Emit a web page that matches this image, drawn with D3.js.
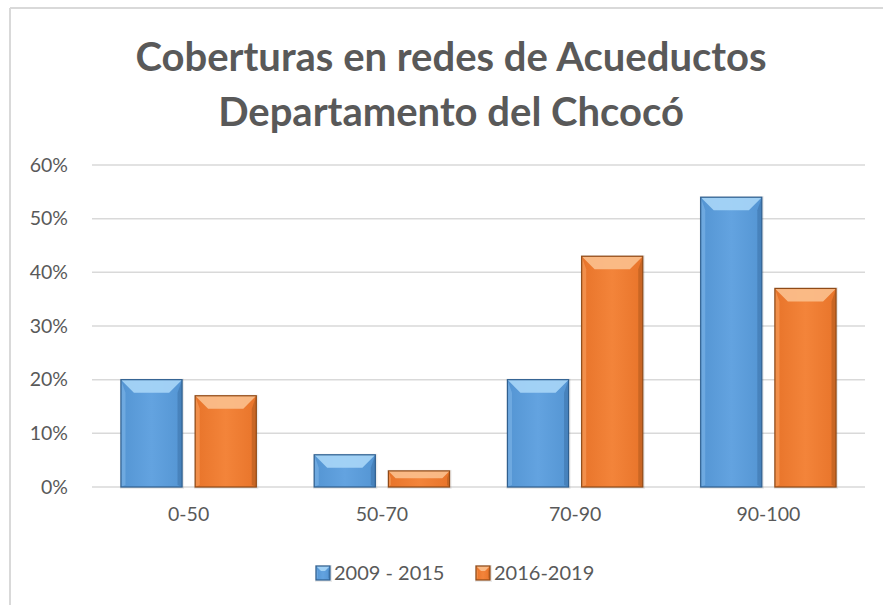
<!DOCTYPE html>
<html>
<head>
<meta charset="utf-8">
<script src="https://cdn.jsdelivr.net/npm/d3@7"></script>
<style>
  body { margin: 0; background: #fff; }
  svg { display: block; }
  text { font-family: Lato, "Open Sans", sans-serif; }
</style>
</head>
<body>
<div id="chart"></div>
<script>
// data
const categories = ['0-50', '50-70', '70-90', '90-100'];
const seriesNames = ['2009 - 2015', '2016-2019'];
const values2009 = [0.20, 0.06, 0.20, 0.54];
const values2016 = [0.17, 0.03, 0.43, 0.37];
const yTicks = [0, 0.1, 0.2, 0.3, 0.4, 0.5, 0.6];
const titleLines = ['Coberturas en redes de Acueductos', 'Departamento del Chcocó'];

const width = 883, height = 605;
const margin = { top: 165, right: 18, bottom: 118, left: 92 };

const svg = d3.select('#chart').append('svg')
  .attr('width', width)
  .attr('height', height);

// gradients for the bevelled bars
const defs = svg.append('defs');
const palettes = [
  { id: 'blue', top: '#7fb5e8', mid: '#63a3e0', bot: '#5495d3', hi: '#a9d6f7', edge: '#2f5f8f' },
  { id: 'orange', top: '#f7a060', mid: '#f3843a', bot: '#e8742a', hi: '#fbc08e', edge: '#8f4a17' }
];
palettes.forEach(p => {
  const g = defs.append('linearGradient').attr('id', 'grad-' + p.id)
    .attr('x1', 0).attr('y1', 0).attr('x2', 1).attr('y2', 0);
  g.append('stop').attr('offset', '0%').attr('stop-color', p.bot);
  g.append('stop').attr('offset', '50%').attr('stop-color', p.mid);
  g.append('stop').attr('offset', '100%').attr('stop-color', p.bot);
});

// chart border (only top and left show in the reference)
svg.append('line').attr('x1', 10).attr('x2', width).attr('y1', 8).attr('y2', 8)
  .attr('stroke', '#d9d9d9').attr('stroke-width', 2);
svg.append('line').attr('x1', 10).attr('x2', 10).attr('y1', 8).attr('y2', height)
  .attr('stroke', '#d9d9d9').attr('stroke-width', 2);

// title
svg.append('text')
  .attr('x', 451).attr('y', 71)
  .attr('text-anchor', 'middle')
  .attr('font-size', 40).attr('font-weight', 'bold').attr('fill', '#595959')
  .selectAll('tspan').data(titleLines).enter().append('tspan')
  .attr('x', 451).attr('dy', (d, i) => i === 0 ? 0 : 55)
  .text(d => d);

const x = d3.scaleBand()
  .domain(categories)
  .range([margin.left, width - margin.right]);

const x1 = d3.scaleBand()
  .domain(seriesNames)
  .range([0, x.bandwidth()])
  .paddingInner(0.176)
  .paddingOuter(0.39);

const y = d3.scaleLinear()
  .domain([0, 0.6])
  .range([height - margin.bottom, margin.top]);

// gridlines
svg.append('g').selectAll('line').data(yTicks).enter().append('line')
  .attr('x1', margin.left).attr('x2', width - margin.right)
  .attr('y1', d => y(d)).attr('y2', d => y(d))
  .attr('stroke', '#d9d9d9').attr('stroke-width', 1.5);

// y axis labels
const yAxis = d3.axisLeft(y).tickValues(yTicks).tickFormat(d3.format('.0%')).tickSize(0).tickPadding(24);
svg.append('g').attr('transform', `translate(${margin.left},0)`).call(yAxis)
  .call(g => g.select('.domain').remove())
  .call(g => g.selectAll('text').attr('font-size', 19.5).attr('fill', '#595959')
    .attr('font-family', 'Lato, "Open Sans", sans-serif'));

// x axis labels
const xAxis = d3.axisBottom(x).tickSize(0).tickPadding(20);
svg.append('g').attr('transform', `translate(0,${y(0)})`).call(xAxis)
  .call(g => g.select('.domain').remove())
  .call(g => g.selectAll('text').attr('font-size', 19.5).attr('fill', '#595959')
    .attr('font-family', 'Lato, "Open Sans", sans-serif'));

// bars
const series = [values2009, values2016];
function drawBar(parent, bx, by, bw, bh, p, bevel) {
  const g = parent.append('g');
  // soft shadow
  g.append('rect').attr('x', bx - 1).attr('y', by - 1).attr('width', bw + 3).attr('height', bh + 3)
    .attr('fill', '#000').attr('opacity', 0.08);
  g.append('rect').attr('x', bx).attr('y', by).attr('width', bw).attr('height', bh)
    .attr('fill', `url(#grad-${p.id})`);
  const b = Math.min(bevel, bh * 0.45);
  // top bevel
  g.append('path')
    .attr('d', `M${bx},${by} L${bx + bw},${by} L${bx + bw - b},${by + b} L${bx + b},${by + b} Z`)
    .attr('fill', p.hi).attr('opacity', 0.9);
  // left bevel
  g.append('path')
    .attr('d', `M${bx},${by} L${bx + b * 0.35},${by + b} L${bx + b * 0.35},${by + bh - 2} L${bx},${by + bh} Z`)
    .attr('fill', p.top).attr('opacity', 0.6);
  // right bevel
  g.append('path')
    .attr('d', `M${bx + bw},${by} L${bx + bw - b * 0.35},${by + b} L${bx + bw - b * 0.35},${by + bh - 2} L${bx + bw},${by + bh} Z`)
    .attr('fill', p.edge).attr('opacity', 0.35);
  // outline
  g.append('rect').attr('x', bx).attr('y', by).attr('width', bw).attr('height', bh)
    .attr('fill', 'none').attr('stroke', p.edge).attr('stroke-width', 1.2);
}
const barsG = svg.append('g');
categories.forEach((c, i) => {
  seriesNames.forEach((s, j) => {
    const v = series[j][i];
    const bx = x(c) + x1(s);
    const by = y(v);
    drawBar(barsG, bx, by, x1.bandwidth(), y(0) - by, palettes[j], 13);
  });
});

// legend
const legend = svg.append('g').attr('transform', 'translate(316,580)');
const legendX = [0, 160];
seriesNames.forEach((s, j) => {
  const lg = legend.append('g').attr('transform', `translate(${legendX[j]},0)`);
  drawBar(lg, 0, -14, 14, 14, palettes[j], 5);
  lg.append('text').attr('x', 18).attr('y', 0)
    .attr('font-size', 20).attr('fill', '#595959').text(s);
});
</script>
</body>
</html>
